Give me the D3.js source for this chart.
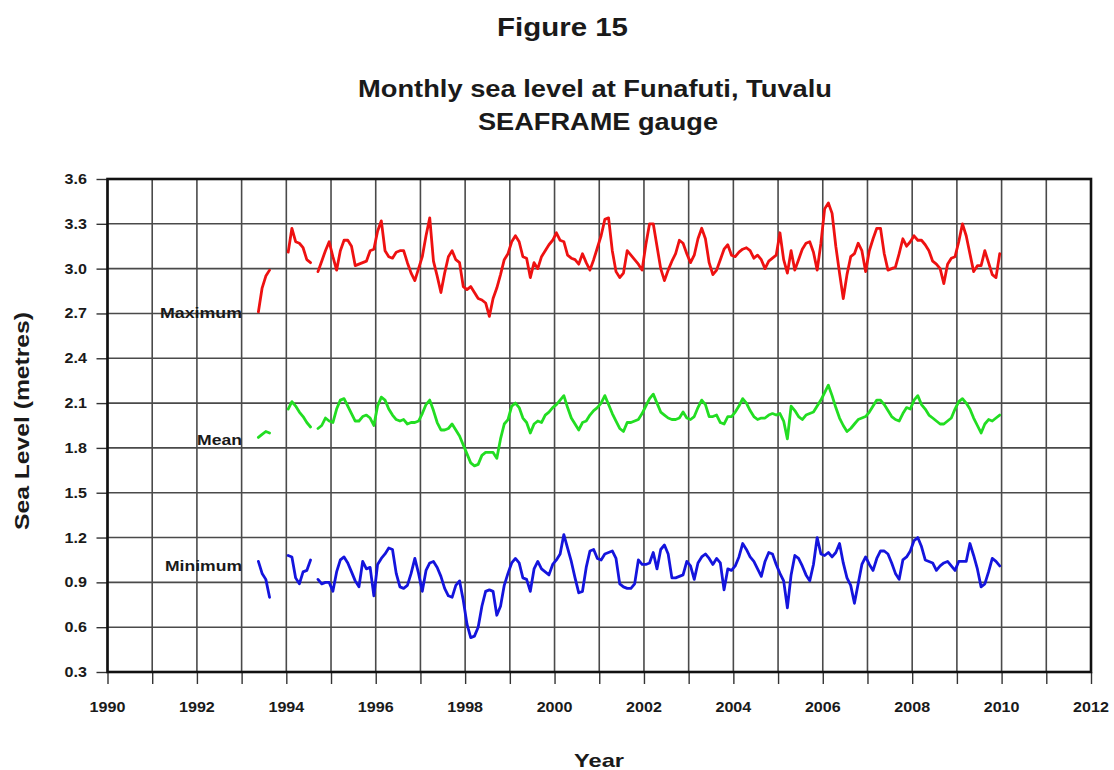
<!DOCTYPE html>
<html><head><meta charset="utf-8">
<script src="https://cdn.jsdelivr.net/npm/d3@7/dist/d3.min.js"></script>
<style>body{margin:0;background:#fff}text{font-family:"Liberation Sans",Arial,sans-serif;font-weight:bold;fill:#1a1a1a}</style>
</head><body><svg id="c" width="1114" height="770"></svg>
<script>
// Monthly series from May 1993 to Dec 2009 (null = no data)
const startYear = 1993, startMonth = 5;
const maxLevel = [
  2.71,2.87,2.95,2.99,null,null,null,null,
  3.11,3.27,3.18,3.17,3.14,3.06,3.04,null,2.98,3.05,3.12,3.18,
  3.08,2.99,3.12,3.19,3.19,3.15,3.02,3.03,3.04,3.05,3.12,3.13,
  3.25,3.32,3.12,3.08,3.07,3.11,3.12,3.12,3.04,2.97,2.92,3.00,
  3.08,3.22,3.34,3.05,2.95,2.84,2.97,3.08,3.12,3.06,3.04,2.88,
  2.86,2.88,2.84,2.80,2.79,2.77,2.68,2.80,2.87,2.96,3.06,3.10,
  3.18,3.22,3.18,3.08,3.07,2.94,3.04,3.00,3.08,3.12,3.16,3.19,
  3.24,3.19,3.18,3.09,3.07,3.06,3.03,3.10,3.04,2.99,3.06,3.14,
  3.22,3.33,3.34,3.12,2.98,2.94,2.97,3.12,3.09,3.06,3.03,2.99,
  3.16,3.30,3.30,3.15,3.00,2.92,2.99,3.05,3.10,3.19,3.17,3.10,
  3.04,3.09,3.20,3.27,3.20,3.04,2.96,2.99,3.06,3.13,3.16,3.09,
  3.08,3.11,3.13,3.14,3.12,3.07,3.09,3.06,3.00,3.05,3.07,3.09,
  3.24,3.06,2.97,3.12,2.99,3.06,3.13,3.17,3.18,3.11,2.99,3.17,
  3.40,3.44,3.37,3.15,2.97,2.80,2.96,3.08,3.10,3.17,3.12,2.98,
  3.12,3.20,3.27,3.27,3.10,2.99,3.00,3.01,3.10,3.20,3.15,3.18,
  3.22,3.19,3.19,3.16,3.12,3.05,3.03,3.00,2.90,3.03,3.07,3.08,
  3.18,3.30,3.22,3.10,2.98,3.02,3.02,3.12,3.04,2.96,2.94,3.10
];
const meanLevel = [
  1.87,1.89,1.91,1.90,null,null,null,null,
  2.06,2.11,2.08,2.04,2.01,1.97,1.94,null,1.93,1.95,2.00,1.98,
  1.97,2.06,2.12,2.13,2.08,2.03,1.98,1.98,2.01,2.02,2.00,1.95,
  2.08,2.14,2.12,2.06,2.02,1.99,1.98,1.99,1.96,1.97,1.97,1.98,
  2.03,2.09,2.12,2.05,1.97,1.92,1.92,1.93,1.96,1.92,1.88,1.82,
  1.76,1.70,1.68,1.69,1.75,1.77,1.77,1.77,1.73,1.86,1.96,1.99,
  2.08,2.10,2.07,2.00,1.97,1.90,1.96,1.98,1.97,2.02,2.04,2.07,
  2.09,2.12,2.15,2.07,2.00,1.96,1.92,1.97,1.98,2.02,2.05,2.07,
  2.10,2.15,2.09,2.03,1.98,1.93,1.91,1.97,1.97,1.98,1.99,2.03,
  2.08,2.13,2.16,2.10,2.04,2.02,2.00,1.99,1.99,2.00,2.04,2.00,
  1.99,2.01,2.07,2.12,2.09,2.01,2.01,2.02,1.97,1.96,2.01,2.01,
  2.04,2.08,2.13,2.10,2.05,2.01,1.99,2.00,2.00,2.02,2.03,2.02,
  2.03,1.98,1.86,2.08,2.05,2.01,1.99,2.02,2.03,2.04,2.08,2.12,
  2.17,2.22,2.15,2.07,2.00,1.95,1.91,1.93,1.96,1.99,2.00,2.01,
  2.04,2.08,2.12,2.12,2.09,2.05,2.01,1.99,1.98,2.03,2.07,2.06,
  2.12,2.15,2.09,2.06,2.02,2.00,1.98,1.96,1.96,1.98,2.00,2.06,
  2.11,2.13,2.10,2.06,2.00,1.95,1.90,1.96,1.99,1.98,2.00,2.02
];
const minLevel = [
  1.04,0.96,0.92,0.80,null,null,null,null,
  1.08,1.07,0.93,0.89,0.97,0.98,1.05,null,0.92,0.89,0.90,0.90,
  0.84,0.97,1.05,1.07,1.03,0.97,0.91,0.87,1.04,0.99,1.00,0.81,
  1.02,1.06,1.09,1.13,1.12,0.96,0.87,0.86,0.88,0.96,1.06,0.96,
  0.84,0.98,1.03,1.04,1.00,0.94,0.86,0.81,0.80,0.88,0.91,0.78,
  0.62,0.53,0.54,0.60,0.74,0.84,0.85,0.84,0.68,0.74,0.88,0.96,
  1.03,1.06,1.03,0.93,0.92,0.84,0.99,1.04,0.99,0.97,0.95,1.02,
  1.05,1.09,1.22,1.13,1.04,0.93,0.83,0.84,1.00,1.11,1.12,1.06,
  1.05,1.09,1.10,1.11,1.06,0.89,0.87,0.86,0.86,0.89,1.05,1.02,
  1.02,1.03,1.10,0.99,1.12,1.15,1.09,0.93,0.93,0.94,0.95,1.04,
  1.01,0.92,1.03,1.07,1.09,1.06,1.02,1.06,1.03,0.85,0.99,0.98,
  1.01,1.07,1.16,1.12,1.07,1.04,0.99,0.94,1.04,1.10,1.09,1.02,
  0.96,0.91,0.73,0.95,1.08,1.06,1.01,0.95,0.91,1.02,1.20,1.09,
  1.08,1.10,1.07,1.10,1.16,1.03,0.93,0.88,0.76,0.89,1.02,1.07,
  1.02,0.98,1.06,1.11,1.11,1.09,1.03,0.96,0.92,1.05,1.07,1.11,
  1.18,1.20,1.14,1.05,1.04,1.03,0.98,1.01,1.03,1.04,1.01,0.98,
  1.04,1.04,1.04,1.16,1.08,0.99,0.87,0.89,0.97,1.06,1.04,1.01
];
const seriesNames = ["Maximum", "Mean", "Minimum"];
const seriesColors = ["#ee1111", "#22dd22", "#1414dd"];
const labelValues = [2.70, 1.85, 1.01];
const xTickLabels = d3.range(1990, 2013, 2);
const yTickLabels = [0.3,0.6,0.9,1.2,1.5,1.8,2.1,2.4,2.7,3.0,3.3,3.6];

const svg = d3.select("#c");
const x = d3.scaleLinear().domain([1990, 2012]).range([107.5, 1091]);
const y = d3.scaleLinear().domain([0.3, 3.6]).range([672, 179]);
const SX = 1.15;

// gridlines
const g = svg.append("g");
g.selectAll(".vg").data(d3.range(1990, 2013)).join("line")
  .attr("x1", d => x(d)).attr("x2", d => x(d)).attr("y1", y(3.6)).attr("y2", y(0.3))
  .attr("stroke", "#4a4a4a").attr("stroke-width", 1.6);
g.selectAll(".hg").data(yTickLabels).join("line")
  .attr("y1", d => y(d)).attr("y2", d => y(d)).attr("x1", x(1990)).attr("x2", x(2012))
  .attr("stroke", "#4a4a4a").attr("stroke-width", 1.6);

// axes
const xAxis = d3.axisBottom(x).tickValues(d3.range(1990, 2013)).tickSize(12).tickFormat("");
svg.append("g").attr("transform", `translate(0,${y(0.3)})`).call(xAxis)
  .call(s => { s.select(".domain").remove(); s.selectAll("line").attr("stroke", "#333").attr("stroke-width", 1.4); });
const yAxis = d3.axisLeft(y).tickValues(yTickLabels).tickSize(11).tickFormat("");
svg.append("g").attr("transform", `translate(${x(1990)},0)`).call(yAxis)
  .call(s => { s.select(".domain").remove(); s.selectAll("line").attr("stroke", "#333").attr("stroke-width", 1.4); });

// frame
svg.append("rect").attr("x", x(1990)).attr("y", y(3.6))
  .attr("width", x(2012) - x(1990)).attr("height", y(0.3) - y(3.6))
  .attr("fill", "none").attr("stroke", "#111").attr("stroke-width", 2.6);

// tick labels
svg.selectAll(".xl").data(xTickLabels).join("text")
  .attr("transform", d => `translate(${x(d)},712) scale(${SX},1)`)
  .attr("text-anchor", "middle").attr("font-size", 14).text(d => d);
svg.selectAll(".yl").data(yTickLabels).join("text")
  .attr("transform", d => `translate(87,${y(d) + 5}) scale(${SX},1)`)
  .attr("text-anchor", "end").attr("font-size", 14).text(d => d.toFixed(1));

// series
const tOf = i => startYear + (startMonth - 1 + i + 0.5) / 12;
const line = d3.line().defined(d => d != null).x((d, i) => x(tOf(i))).y(d => y(d));
[maxLevel, meanLevel, minLevel].forEach((arr, j) => {
  svg.append("path").datum(arr).attr("d", line)
    .attr("fill", "none").attr("stroke", seriesColors[j]).attr("stroke-width", 2.8)
    .attr("stroke-linejoin", "round").attr("stroke-linecap", "round");
});

// series labels
const labelWidths = [82, 45, 77];
svg.selectAll(".sl").data(seriesNames).join("text")
  .attr("x", (d, i) => 242 - labelWidths[i]).attr("y", (d, i) => y(labelValues[i]) + 5)
  .attr("font-size", 14).attr("textLength", (d, i) => labelWidths[i])
  .attr("lengthAdjust", "spacingAndGlyphs").text(d => d);

// titles
svg.append("text").attr("x", 497).attr("y", 36).attr("font-size", 26)
  .attr("textLength", 131).attr("lengthAdjust", "spacingAndGlyphs").text("Figure 15");
svg.append("text").attr("x", 358).attr("y", 97).attr("font-size", 23)
  .attr("textLength", 474).attr("lengthAdjust", "spacingAndGlyphs").text("Monthly sea level at Funafuti, Tuvalu");
svg.append("text").attr("x", 478).attr("y", 130).attr("font-size", 23)
  .attr("textLength", 240).attr("lengthAdjust", "spacingAndGlyphs").text("SEAFRAME gauge");
svg.append("text").attr("x", 574).attr("y", 767).attr("font-size", 19)
  .attr("textLength", 50).attr("lengthAdjust", "spacingAndGlyphs").text("Year");
svg.append("text").attr("transform", "translate(29,530) rotate(-90)").attr("font-size", 20)
  .attr("textLength", 218).attr("lengthAdjust", "spacingAndGlyphs").text("Sea Level (metres)");
</script></body></html>
